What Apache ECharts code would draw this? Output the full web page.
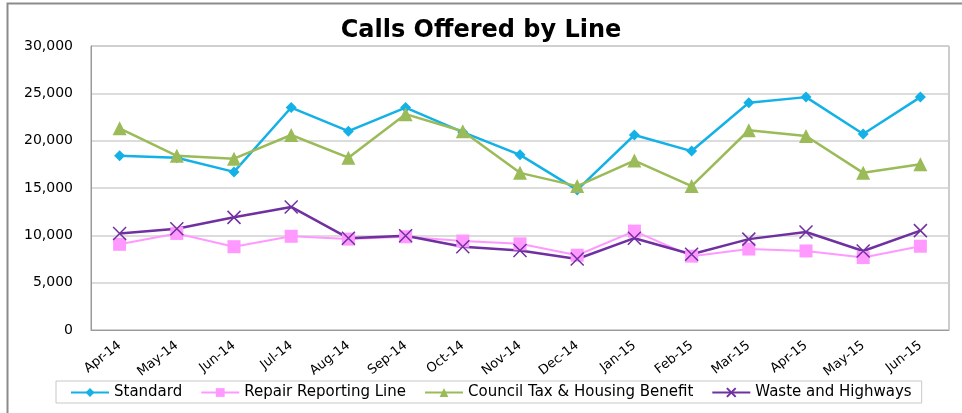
<!DOCTYPE html>
<html>
<head>
<meta charset="utf-8">
<script src="https://cdn.jsdelivr.net/npm/echarts@6/dist/echarts.min.js"></script>
<style>
  html, body { margin: 0; padding: 0; background: #fff; }
  #chart { width: 962px; height: 413px; }
</style>
</head>
<body>
<div id="chart"></div>
<script>
// data
var months = ['Apr-14', 'May-14', 'Jun-14', 'Jul-14', 'Aug-14', 'Sep-14', 'Oct-14', 'Nov-14',
  'Dec-14', 'Jan-15', 'Feb-15', 'Mar-15', 'Apr-15', 'May-15', 'Jun-15']
var standard = [18400, 18200, 16700, 23500, 21000, 23500, 20900, 18500, 14800, 20600, 18900, 24000, 24600, 20700, 24600]
var repair = [9050, 10200, 8800, 9900, 9600, 9850, 9400, 9100, 7900, 10450, 7800, 8550, 8350, 7650, 8850]
var council = [21300, 18400, 18100, 20600, 18200, 22800, 21000, 16600, 15200, 17900, 15200, 21100, 20500, 16600, 17500]
var waste = [10200, 10700, 11900, 13000, 9700, 9950, 8800, 8400, 7500, 9700, 8000, 9600, 10350, 8350, 10500]
var yTicks = [0, 5000, 10000, 15000, 20000, 25000, 30000]

var font = 'DejaVu Sans'
var myChart = echarts.init(document.getElementById('chart'))

var option = {
  animation: false,
  backgroundColor: '#fff',
  textStyle: { fontFamily: font },
  graphic: [{
    type: 'rect',
    shape: { x: 7.5, y: 3.5, width: 1000, height: 500 },
    style: { fill: 'none', stroke: '#8c8c8c', lineWidth: 2 },
    silent: true
  }],
  title: {
    text: 'Calls Offered by Line',
    left: 'center',
    top: 14,
    textStyle: { fontFamily: font, fontSize: 24, fontWeight: 'bold', color: '#000' }
  },
  legend: {
    left: 56,
    top: 381,
    padding: [4, 10, 3, 14],
    itemWidth: 38,
    itemHeight: 11,
    itemGap: 18,
    borderColor: '#c8c8c8',
    borderWidth: 1,
    textStyle: { fontFamily: font, fontSize: 15, color: '#000' },
    data: ['Standard', 'Repair Reporting Line', 'Council Tax & Housing Benefit', 'Waste and Highways']
  },
  grid: {
    left: 91, right: 13, top: 46, bottom: 83,
    show: true,
    borderColor: '#9a9a9a',
    borderWidth: 1
  },
  xAxis: {
    type: 'category',
    data: months,
    boundaryGap: true,
    axisLine: { lineStyle: { color: '#9a9a9a', width: 1 } },
    axisTick: { show: false },
    axisLabel: { rotate: 38, fontSize: 13, color: '#000', margin: 14, interval: 0 }
  },
  yAxis: {
    type: 'value',
    min: yTicks[0],
    max: yTicks[yTicks.length - 1],
    interval: 5000,
    axisLine: { show: true, lineStyle: { color: '#9a9a9a' } },
    axisTick: { show: false },
    splitLine: { lineStyle: { color: '#d0d0d0', width: 1.5 } },
    axisLabel: {
      fontSize: 14, color: '#000', margin: 18,
      formatter: function (v) { return v.toLocaleString('en-US') }
    }
  },
  series: [
    {
      name: 'Standard', type: 'line', data: standard,
      symbol: 'diamond', symbolSize: 11,
      lineStyle: { color: '#14b1e7', width: 2.5 },
      itemStyle: { color: '#14b1e7' }
    },
    {
      name: 'Repair Reporting Line', type: 'line', data: repair,
      symbol: 'rect', symbolSize: 13,
      lineStyle: { color: '#ff99ff', width: 2 },
      itemStyle: { color: '#ff99ff' }
    },
    {
      name: 'Council Tax & Housing Benefit', type: 'line', data: council,
      symbol: 'triangle', symbolSize: 14,
      lineStyle: { color: '#9bbb59', width: 2.5 },
      itemStyle: { color: '#9bbb59' }
    },
    {
      name: 'Waste and Highways', type: 'line', data: waste,
      symbol: 'path://M0,0L10,10M10,0L0,10', symbolSize: 13,
      lineStyle: { color: '#7030a0', width: 2.5 },
      itemStyle: { color: '#7030a0', borderColor: '#7030a0', borderWidth: 1.5 }
    }
  ]
}
myChart.setOption(option)
</script>
</body>
</html>
